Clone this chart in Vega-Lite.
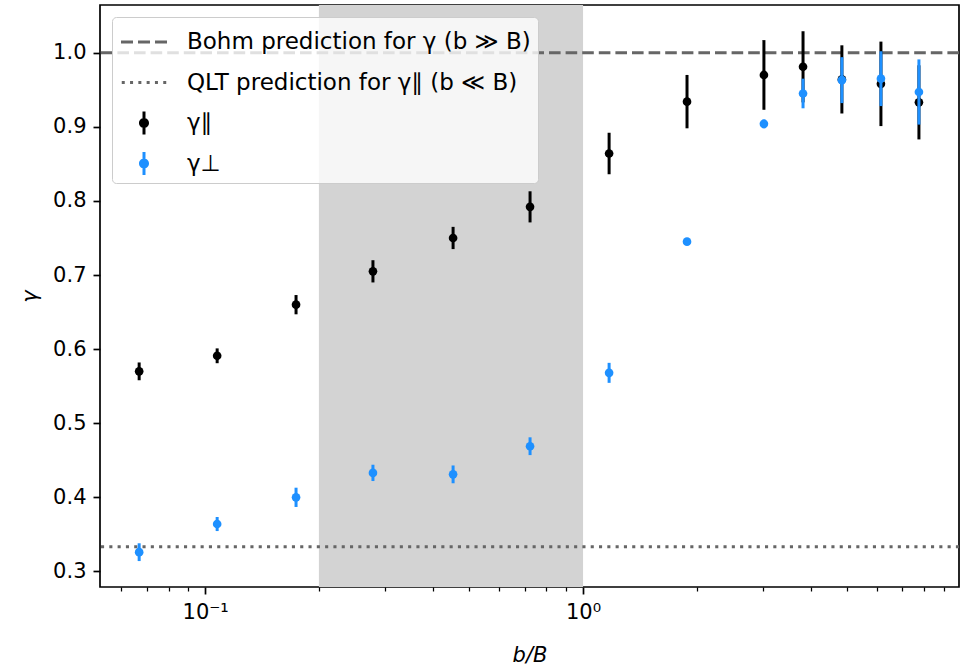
{
  "$schema": "https://vega.github.io/schema/vega-lite/v6.json",
  "width": 859,
  "height": 582,
  "autosize": "none",
  "padding": {"left": 100, "top": 5, "right": 2, "bottom": 82},
  "background": "white",
  "datasets": {
    "par": [
      {"x": 0.0669, "y": 0.570, "err": 0.012, "series": "γ∥"},
      {"x": 0.1076, "y": 0.591, "err": 0.010, "series": "γ∥"},
      {"x": 0.174, "y": 0.660, "err": 0.013, "series": "γ∥"},
      {"x": 0.278, "y": 0.705, "err": 0.015, "series": "γ∥"},
      {"x": 0.453, "y": 0.750, "err": 0.015, "series": "γ∥"},
      {"x": 0.724, "y": 0.792, "err": 0.021, "series": "γ∥"},
      {"x": 1.172, "y": 0.864, "err": 0.028, "series": "γ∥"},
      {"x": 1.884, "y": 0.934, "err": 0.036, "series": "γ∥"},
      {"x": 3.01, "y": 0.970, "err": 0.047, "series": "γ∥"},
      {"x": 3.82, "y": 0.981, "err": 0.048, "series": "γ∥"},
      {"x": 4.84, "y": 0.964, "err": 0.046, "series": "γ∥"},
      {"x": 6.14, "y": 0.958, "err": 0.057, "series": "γ∥"},
      {"x": 7.74, "y": 0.933, "err": 0.050, "series": "γ∥"}
    ],
    "perp": [
      {"x": 0.0669, "y": 0.326, "err": 0.012, "series": "γ⊥"},
      {"x": 0.1076, "y": 0.364, "err": 0.0095, "series": "γ⊥"},
      {"x": 0.174, "y": 0.400, "err": 0.013, "series": "γ⊥"},
      {"x": 0.278, "y": 0.433, "err": 0.011, "series": "γ⊥"},
      {"x": 0.453, "y": 0.431, "err": 0.012, "series": "γ⊥"},
      {"x": 0.724, "y": 0.469, "err": 0.012, "series": "γ⊥"},
      {"x": 1.172, "y": 0.568, "err": 0.0135, "series": "γ⊥"},
      {"x": 1.884, "y": 0.745, "err": 0.004, "series": "γ⊥"},
      {"x": 3.01, "y": 0.904, "err": 0.006, "series": "γ⊥"},
      {"x": 3.82, "y": 0.945, "err": 0.020, "series": "γ⊥"},
      {"x": 4.84, "y": 0.963, "err": 0.031, "series": "γ⊥"},
      {"x": 6.14, "y": 0.965, "err": 0.037, "series": "γ⊥"},
      {"x": 7.74, "y": 0.947, "err": 0.044, "series": "γ⊥"}
    ]
  },
  "layer": [
    {
      "data": {"values": [{"lo": 0.2, "hi": 1.0}]},
      "mark": {"type": "rect", "color": "#d3d3d3"},
      "encoding": {
        "x": {
          "field": "lo", "type": "quantitative", "title": "b/B",
          "scale": {"type": "log", "domain": [0.0527, 9.88], "nice": false},
          "axis": {
            "values": [0.06, 0.07, 0.08, 0.09, 0.1, 0.2, 0.3, 0.4, 0.5, 0.6, 0.7, 0.8, 0.9, 1, 2, 3, 4, 5, 6, 7, 8, 9],
            "labelExpr": "datum.value == 0.1 ? '10⁻¹' : (datum.value == 1 ? '10⁰' : '')",
            "tickSize": {"condition": {"test": "datum.value == 0.1 || datum.value == 1", "value": 7}, "value": 4},
            "tickWidth": {"condition": {"test": "datum.value == 0.1 || datum.value == 1", "value": 1.7}, "value": 1.25},
            "labelPadding": 7,
            "titlePadding": 22,
            "titleFontStyle": "italic",
            "labelFlush": false,
            "labelOverlap": false
          }
        },
        "x2": {"field": "hi"}
      }
    },
    {
      "data": {"values": [{"y": 1.0}]},
      "mark": {"type": "rule", "color": "#666666", "strokeWidth": 3, "strokeDash": [11.6, 5]},
      "encoding": {
        "y": {"field": "y", "type": "quantitative", "title": "γ",
          "scale": {"domain": [0.279, 1.0644], "nice": false, "zero": false},
          "axis": {"values": [0.3, 0.4, 0.5, 0.6, 0.7, 0.8, 0.9, 1.0], "format": ".1f", "tickSize": 7, "tickWidth": 1.7, "labelPadding": 7, "titlePadding": 12, "titleFontStyle": "italic"}
        }
      }
    },
    {
      "data": {"values": [{"y": 0.3333}]},
      "mark": {"type": "rule", "color": "#666666", "strokeWidth": 3, "strokeDash": [3.1, 5.2]},
      "encoding": {"y": {"field": "y", "type": "quantitative", "title": "γ"}}
    },
    {
      "data": {"name": "par"},
      "mark": {"type": "errorbar", "thickness": 3, "color": "black"},
      "encoding": {
        "x": {"field": "x", "type": "quantitative", "title": "b/B"},
        "y": {"field": "y", "type": "quantitative", "title": "γ"},
        "yError": {"field": "err"}
      }
    },
    {
      "data": {"name": "par"},
      "mark": {"type": "point", "filled": true, "shape": "circle", "size": 75, "opacity": 1},
      "encoding": {
        "x": {"field": "x", "type": "quantitative", "title": "b/B"},
        "y": {"field": "y", "type": "quantitative", "title": "γ"},
        "color": {
          "field": "series", "type": "nominal",
          "scale": {"domain": ["Bohm prediction for γ (b ≫ B)", "QLT prediction for γ∥ (b ≪ B)", "γ∥", "γ⊥"], "range": ["#666666", "#666666", "black", "#1e90ff"]},
          "legend": {
            "title": null,
            "orient": "none",
            "legendX": 12,
            "legendY": 12,
            "padding": 7,
            "symbolSize": 1296,
            "symbolOffset": 7,
            "labelOffset": 25,
            "rowPadding": 10.5,
            "labelFontSize": 23,
            "labelLimit": 600,
            "fillColor": "rgba(255,255,255,0.8)",
            "strokeColor": "#cccccc",
            "cornerRadius": 4,
            "symbolStrokeWidth": 0,
            "symbolOpacity": 1,
            "encode": {
              "symbols": {
                "update": {
                  "shape": {"signal": "datum.index === 0 ? 'M-1.278,-0.083H-0.611V0.083H-1.278Z M-0.333,-0.083H0.333V0.083H-0.333Z M0.611,-0.083H1.278V0.083H0.611Z' : (datum.index === 1 ? 'M-1.236,-0.083h0.167v0.167h-0.167Z M-0.775,-0.083h0.167v0.167h-0.167Z M-0.314,-0.083h0.167v0.167h-0.167Z M0.147,-0.083h0.167v0.167h-0.167Z M0.608,-0.083h0.167v0.167h-0.167Z M1.069,-0.083h0.167v0.167h-0.167Z' : 'M-0.083,-0.639H0.083V0.639H-0.083Z M0.278,0A0.278,0.278 0 1,1 -0.278,0A0.278,0.278 0 1,1 0.278,0Z')"}
                }
              }
            }
          }
        }
      }
    },
    {
      "data": {"name": "perp"},
      "mark": {"type": "errorbar", "thickness": 3, "color": "#1e90ff"},
      "encoding": {
        "x": {"field": "x", "type": "quantitative", "title": "b/B"},
        "y": {"field": "y", "type": "quantitative", "title": "γ"},
        "yError": {"field": "err"}
      }
    },
    {
      "data": {"name": "perp"},
      "mark": {"type": "point", "filled": true, "shape": "circle", "size": 75, "opacity": 1},
      "encoding": {
        "x": {"field": "x", "type": "quantitative", "title": "b/B"},
        "y": {"field": "y", "type": "quantitative", "title": "γ"},
        "color": {"field": "series", "type": "nominal"}
      }
    }
  ],
  "config": {
    "font": "DejaVu Sans",
    "view": {"stroke": "black", "strokeWidth": 1.7},
    "axis": {
      "grid": false,
      "domain": false,
      "tickColor": "black",
      "labelColor": "black",
      "titleColor": "black",
      "labelFont": "DejaVu Sans",
      "titleFont": "DejaVu Sans",
      "labelFontSize": 21,
      "titleFontSize": 21,
      "titleFontWeight": "normal"
    },
    "legend": {
      "labelFont": "DejaVu Sans",
      "labelColor": "black"
    }
  }
}
